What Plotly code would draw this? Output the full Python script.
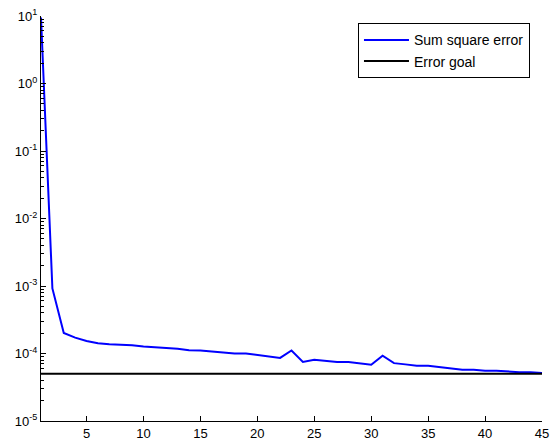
import plotly.graph_objects as go

epochs = list(range(1, 46))
sse = [9.5, 9.2e-4, 2.01e-4, 1.72e-4, 1.53e-4, 1.42e-4, 1.37e-4, 1.36e-4, 1.33e-4, 1.27e-4,
       1.25e-4, 1.22e-4, 1.18e-4, 1.12e-4, 1.11e-4, 1.07e-4, 1.04e-4, 1.00e-4, 1.00e-4, 0.95e-4,
       0.91e-4, 0.86e-4, 1.11e-4, 0.75e-4, 0.81e-4, 0.78e-4, 0.75e-4, 0.75e-4, 0.72e-4, 0.68e-4,
       0.93e-4, 0.72e-4, 0.69e-4, 0.66e-4, 0.66e-4, 0.63e-4, 0.60e-4, 0.576e-4, 0.576e-4, 0.557e-4,
       0.557e-4, 0.538e-4, 0.527e-4, 0.527e-4, 0.515e-4]
goal = 5e-5
goal_x = [1, 45]
goal_y = [goal, goal]

x_ticks = [5, 10, 15, 20, 25, 30, 35, 40, 45]
y_exps = [-5, -4, -3, -2, -1, 0, 1]
y_ticks = [10.0 ** e for e in y_exps]
y_ticktext = ["10<sup>%d</sup>" % e for e in y_exps]
minor_vals = [m * 10.0 ** e for e in y_exps[:-1] for m in range(2, 10)]

fig = go.Figure()
fig.add_trace(go.Scatter(x=epochs, y=sse, mode="lines", name="Sum square error",
                         line=dict(color="#0000FF", width=2)))
fig.add_trace(go.Scatter(x=goal_x, y=goal_y, mode="lines", name="Error goal",
                         line=dict(color="#000000", width=2)))

fig.update_layout(
    width=550, height=445,
    margin=dict(l=41, r=8, t=16, b=24, autoexpand=False),
    paper_bgcolor="white", plot_bgcolor="white",
    font=dict(family="Liberation Sans, Arial, sans-serif", size=13, color="black"),
    showlegend=True,
    legend=dict(x=0.976, y=0.982, xanchor="right", yanchor="top",
                bordercolor="black", borderwidth=1, bgcolor="white",
                font=dict(size=14), itemwidth=45, tracegroupgap=4),
)
fig.update_xaxes(range=[1, 45], tickvals=x_ticks, ticks="inside", ticklen=5,
                 showline=True, linecolor="black", linewidth=1, showgrid=False,
                 zeroline=False, tickcolor="black", mirror=False)
fig.update_yaxes(type="log", range=[-5, 1], tickvals=y_ticks, ticktext=y_ticktext,
                 ticks="inside", ticklen=5, tickcolor="black",
                 showline=True, linecolor="black", linewidth=1, showgrid=False,
                 zeroline=False,
                 minor=dict(tickvals=minor_vals, ticks="inside", ticklen=3,
                            tickcolor="black", showgrid=False))

fig.write_html("out.html", config={"displayModeBar": False},
               post_script="document.body.style.margin='0';document.body.style.padding='0';")
